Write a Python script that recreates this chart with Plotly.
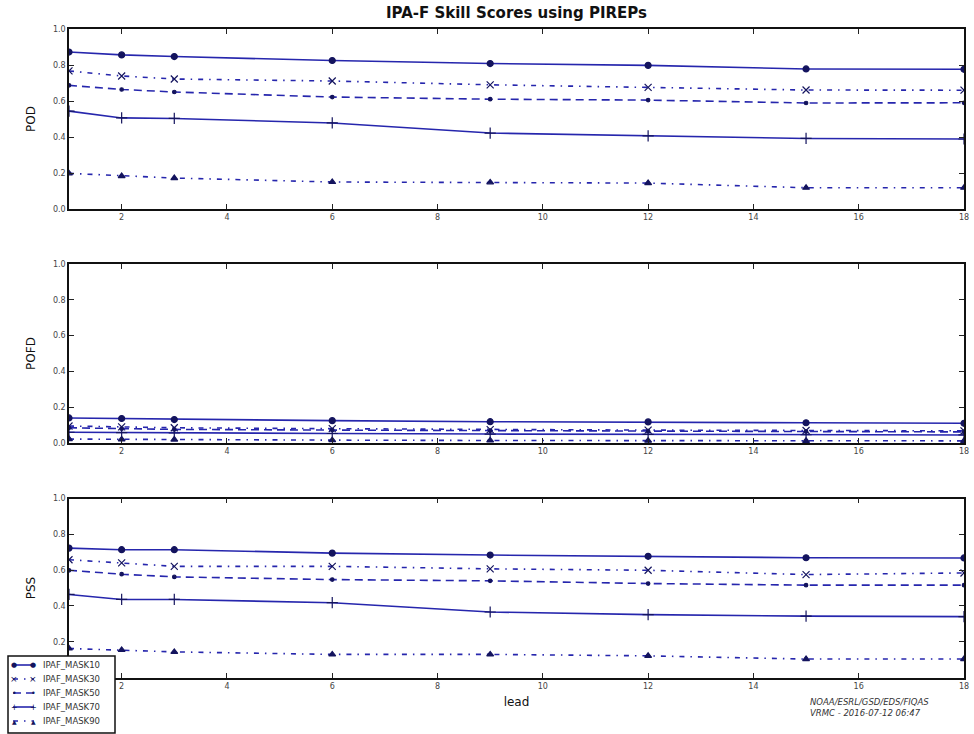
import plotly.graph_objects as go
from plotly.subplots import make_subplots

lead = [1, 2, 3, 6, 9, 12, 15, 18]
series_names = ["IPAF_MASK10", "IPAF_MASK30", "IPAF_MASK50", "IPAF_MASK70", "IPAF_MASK90"]
x_ticks = [2, 4, 6, 8, 10, 12, 14, 16, 18]
y_ticks = [0.0, 0.2, 0.4, 0.6, 0.8, 1.0]

pod_mask10 = [0.872, 0.856, 0.847, 0.825, 0.808, 0.798, 0.778, 0.776]
pod_mask30 = [0.767, 0.739, 0.722, 0.711, 0.690, 0.676, 0.661, 0.660]
pod_mask50 = [0.687, 0.664, 0.650, 0.622, 0.610, 0.605, 0.589, 0.590]
pod_mask70 = [0.544, 0.506, 0.503, 0.478, 0.422, 0.406, 0.392, 0.389]
pod_mask90 = [0.198, 0.183, 0.172, 0.150, 0.148, 0.144, 0.118, 0.118]

pofd_mask10 = [0.140, 0.137, 0.131, 0.125, 0.119, 0.118, 0.113, 0.110]
pofd_mask30 = [0.095, 0.090, 0.085, 0.080, 0.075, 0.072, 0.070, 0.068]
pofd_mask50 = [0.085, 0.080, 0.076, 0.072, 0.068, 0.066, 0.064, 0.062]
pofd_mask70 = [0.060, 0.058, 0.056, 0.053, 0.050, 0.048, 0.046, 0.045]
pofd_mask90 = [0.022, 0.020, 0.019, 0.016, 0.014, 0.013, 0.012, 0.012]

pss_mask10 = [0.723, 0.714, 0.714, 0.695, 0.684, 0.677, 0.669, 0.668]
pss_mask30 = [0.658, 0.640, 0.621, 0.621, 0.607, 0.599, 0.575, 0.584]
pss_mask50 = [0.599, 0.577, 0.562, 0.547, 0.540, 0.525, 0.516, 0.516]
pss_mask70 = [0.464, 0.436, 0.436, 0.418, 0.366, 0.351, 0.343, 0.340]
pss_mask90 = [0.162, 0.154, 0.143, 0.129, 0.129, 0.121, 0.103, 0.103]

panels = [
    ("POD", [pod_mask10, pod_mask30, pod_mask50, pod_mask70, pod_mask90]),
    ("POFD", [pofd_mask10, pofd_mask30, pofd_mask50, pofd_mask70, pofd_mask90]),
    ("PSS", [pss_mask10, pss_mask30, pss_mask50, pss_mask70, pss_mask90]),
]

line_color = "#2626ad"
marker_color = "#14145e"
DASHDOT = "5px,6px,1.5px,6px"
styles = [
    dict(dash="solid", symbol="circle", size=6, glyph="●", gsize=7),
    dict(dash=DASHDOT, symbol="x-thin-open", size=7, glyph="×", gsize=9),
    dict(dash="8px,5px", symbol="circle", size=3.5, glyph="•", gsize=8),
    dict(dash="solid", symbol="cross-thin-open", size=8, glyph="+", gsize=8),
    dict(dash=DASHDOT, symbol="triangle-up", size=6, glyph="▲", gsize=6),
]

fig = make_subplots(rows=3, cols=1)

for r, (label, data) in enumerate(panels, start=1):
    for i, (name, vals) in enumerate(zip(series_names, data)):
        st = styles[i]
        fig.add_trace(
            go.Scatter(
                x=lead, y=vals, name=name, mode="lines+markers",
                line=dict(color=line_color, width=1.6, dash=st["dash"]),
                marker=dict(symbol=st["symbol"], size=st["size"], color=marker_color,
                            line=dict(color=marker_color, width=1.2)),
                showlegend=False,
            ),
            row=r, col=1,
        )

W, H = 974, 734
xl, xr = 69 / W, 964 / W
ydoms = [(1 - 209 / H, 1 - 29 / H), (1 - 443 / H, 1 - 264 / H), (1 - 677.5 / H, 1 - 498.5 / H)]
tickfont = dict(family="DejaVu Sans", size=8, color="#444")
for r in range(1, 4):
    xa = "xaxis" if r == 1 else f"xaxis{r}"
    ya = "yaxis" if r == 1 else f"yaxis{r}"
    # the bottom panel's 0.0 label is hidden under the legend in the original
    yt = y_ticks[1:] if r == 3 else y_ticks
    fig.layout[xa].update(
        domain=[xl, xr], range=[1, 18], tickvals=x_ticks,
        ticks="inside", ticklen=5, tickcolor="#222", mirror="allticks", showline=True,
        linecolor="#111", linewidth=1.5, showgrid=False, zeroline=False, tickfont=tickfont,
    )
    fig.layout[ya].update(
        domain=list(ydoms[r - 1]), range=[0, 1], tickvals=yt,
        ticktext=[f"{v:.1f}" for v in yt],
        ticks="inside", ticklen=5, tickcolor="#222", mirror="allticks", showline=True,
        linecolor="#111", linewidth=1.5, showgrid=False, zeroline=False, tickfont=tickfont,
        ticklabeloverflow="allow",
        title=dict(text=panels[r - 1][0], font=dict(family="DejaVu Sans", size=12, color="#111"), standoff=15),
    )

fig.layout["xaxis3"].title = dict(text="lead", font=dict(family="DejaVu Sans", size=12, color="#111"), standoff=8)

fig.add_annotation(
    text="NOAA/ESRL/GSD/EDS/FIQAS<br>VRMC - 2016-07-12 06:47",
    xref="paper", yref="paper", x=808 / W, y=1 - 695 / H, xanchor="left", yanchor="top",
    showarrow=False, align="left",
    font=dict(family="DejaVu Sans", size=8.5, color="#333", style="italic"),
)

# Legend box (decoration in paper coordinates, bottom-left like the original)
leg_left, leg_right, leg_top, leg_bottom = 8, 115, 656, 733
fig.add_shape(type="rect", xref="paper", yref="paper",
              x0=leg_left / W, x1=leg_right / W, y0=1 - leg_bottom / H, y1=1 - leg_top / H,
              line=dict(color="#111", width=1.5), fillcolor="white", layer="above")
for i, (name, st) in enumerate(zip(series_names, styles)):
    yy = 1 - (665 + 14 * i) / H
    fig.add_shape(type="line", xref="paper", yref="paper",
                  x0=13 / W, x1=34 / W, y0=yy, y1=yy,
                  line=dict(color=line_color, width=1.6, dash=st["dash"]), layer="above")
    for gx in (14, 33):
        fig.add_annotation(text=st["glyph"], xref="paper", yref="paper", x=gx / W, y=yy,
                           xanchor="center", yanchor="middle", showarrow=False,
                           font=dict(family="DejaVu Sans", size=st["gsize"], color=marker_color))
    fig.add_annotation(text=name, xref="paper", yref="paper", x=41 / W, y=yy,
                       xanchor="left", yanchor="middle", showarrow=False,
                       font=dict(family="DejaVu Sans", size=8.5, color="#333"))

fig.update_layout(
    width=W, height=H,
    margin=dict(l=0, r=0, t=0, b=0, autoexpand=False),
    paper_bgcolor="white", plot_bgcolor="white",
    showlegend=False,
    title=dict(text="<b>IPA-F Skill Scores using PIREPs</b>", x=(69 + 964) / 2 / W, xanchor="center",
               y=1 - 13 / H, yanchor="middle",
               font=dict(family="DejaVu Sans", size=15, color="#111")),
)

fig.write_html("out.html")
